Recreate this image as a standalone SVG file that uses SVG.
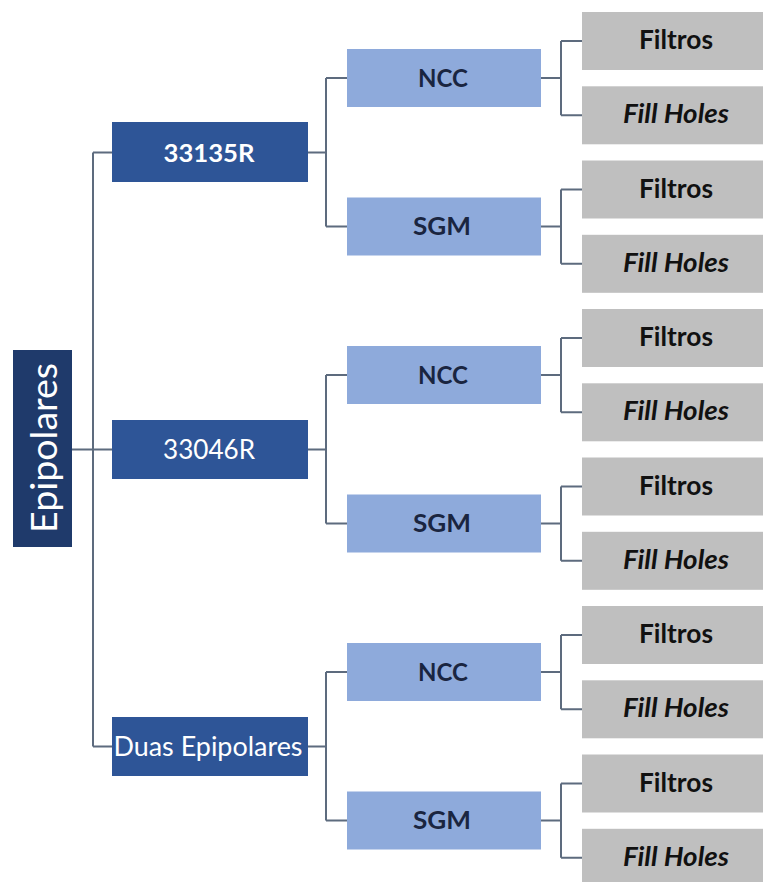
<svg xmlns="http://www.w3.org/2000/svg" width="763" height="882" viewBox="0 0 763 882">
<style>
.root{fill:#1f3a6b}
.l1{fill:#2e5597}
.l2{fill:#8eaadb}
.leaf{fill:#bfbfbf}
text{font-family:Lato,"Liberation Sans",sans-serif;text-anchor:middle;dominant-baseline:central}
.t0{fill:#fff;font-size:36px}
.t1{fill:#fff;font-size:26px}
.t1b{fill:#fff;font-size:25px;font-weight:bold}
.t2{fill:#1a2540;font-size:24px;font-weight:bold}
.t3{fill:#111;font-size:26px;font-weight:bold}
.t3i{fill:#111;font-size:26px;font-weight:bold;font-style:italic}
.c{fill:none;stroke:#5d6b7e;stroke-width:2}
</style>
<rect width="763" height="882" fill="#fff"/>
<g id="connectors" class="c">
<path d="M72 449.5H93M93 152.4V746.4M93 152.4H112M93 449.4H112M93 746.4H112"/>
<path d="M308 152.4H326M326 78.1V226.6M326 78.1H347M326 226.6H347"/>
<path d="M308 449.4H326M326 375.1V523.6M326 375.1H347M326 523.6H347"/>
<path d="M308 746.4H326M326 672.1V820.6M326 672.1H347M326 820.6H347"/>
<path d="M541 78.1H561M561 41V115.3M561 41H582M561 115.3H582"/>
<path d="M541 226.6H561M561 189.5V263.8M561 189.5H582M561 263.8H582"/>
<path d="M541 375.1H561M561 338V412.3M561 338H582M561 412.3H582"/>
<path d="M541 523.6H561M561 486.5V560.8M561 486.5H582M561 560.8H582"/>
<path d="M541 672.1H561M561 635V709.3M561 635H582M561 709.3H582"/>
<path d="M541 820.6H561M561 783.5V857.8M561 783.5H582M561 857.8H582"/>
</g>
<g id="epipolares"><rect class="root" x="13" y="350" width="59" height="197"/><text class="t0" transform="translate(43 448) rotate(-90)" textLength="170" lengthAdjust="spacingAndGlyphs">Epipolares</text></g>
<g id="n33135R"><rect class="l1" x="112" y="122" width="196" height="60"/><text class="t1b" x="209" y="152.4" textLength="91" lengthAdjust="spacingAndGlyphs">33135R</text></g>
<g id="n33046R"><rect class="l1" x="112" y="420" width="196" height="59"/><text class="t1" x="209" y="449.4" textLength="92" lengthAdjust="spacingAndGlyphs">33046R</text></g>
<g id="duas"><rect class="l1" x="112" y="717" width="196" height="59"/><text class="t1" x="208" y="746.4" textLength="189" lengthAdjust="spacingAndGlyphs">Duas Epipolares</text></g>
<g id="ncc1"><rect class="l2" x="347" y="49" width="194" height="58"/><text class="t2" x="443" y="77">NCC</text></g>
<g id="sgm1"><rect class="l2" x="347" y="197.5" width="194" height="58"/><text class="t2" x="442" y="225.5" textLength="58" lengthAdjust="spacingAndGlyphs">SGM</text></g>
<g id="ncc2"><rect class="l2" x="347" y="346" width="194" height="58"/><text class="t2" x="443" y="374">NCC</text></g>
<g id="sgm2"><rect class="l2" x="347" y="494.5" width="194" height="58"/><text class="t2" x="442" y="522.5" textLength="58" lengthAdjust="spacingAndGlyphs">SGM</text></g>
<g id="ncc3"><rect class="l2" x="347" y="643" width="194" height="58"/><text class="t2" x="443" y="671">NCC</text></g>
<g id="sgm3"><rect class="l2" x="347" y="791.5" width="194" height="58"/><text class="t2" x="442" y="819.5" textLength="58" lengthAdjust="spacingAndGlyphs">SGM</text></g>
<g id="f1"><rect class="leaf" x="582" y="12" width="181" height="58"/><text class="t3" x="676" y="39" textLength="74" lengthAdjust="spacingAndGlyphs">Filtros</text></g>
<g id="h1"><rect class="leaf" x="582" y="86.3" width="181" height="58"/><text class="t3i" x="676" y="113" textLength="106" lengthAdjust="spacingAndGlyphs">Fill Holes</text></g>
<g id="f2"><rect class="leaf" x="582" y="160.5" width="181" height="58"/><text class="t3" x="676" y="187.5" textLength="74" lengthAdjust="spacingAndGlyphs">Filtros</text></g>
<g id="h2"><rect class="leaf" x="582" y="234.8" width="181" height="58"/><text class="t3i" x="676" y="261.5" textLength="106" lengthAdjust="spacingAndGlyphs">Fill Holes</text></g>
<g id="f3"><rect class="leaf" x="582" y="309" width="181" height="58"/><text class="t3" x="676" y="336" textLength="74" lengthAdjust="spacingAndGlyphs">Filtros</text></g>
<g id="h3"><rect class="leaf" x="582" y="383.3" width="181" height="58"/><text class="t3i" x="676" y="410" textLength="106" lengthAdjust="spacingAndGlyphs">Fill Holes</text></g>
<g id="f4"><rect class="leaf" x="582" y="457.5" width="181" height="58"/><text class="t3" x="676" y="484.5" textLength="74" lengthAdjust="spacingAndGlyphs">Filtros</text></g>
<g id="h4"><rect class="leaf" x="582" y="531.8" width="181" height="58"/><text class="t3i" x="676" y="558.5" textLength="106" lengthAdjust="spacingAndGlyphs">Fill Holes</text></g>
<g id="f5"><rect class="leaf" x="582" y="606" width="181" height="58"/><text class="t3" x="676" y="633" textLength="74" lengthAdjust="spacingAndGlyphs">Filtros</text></g>
<g id="h5"><rect class="leaf" x="582" y="680.3" width="181" height="58"/><text class="t3i" x="676" y="707" textLength="106" lengthAdjust="spacingAndGlyphs">Fill Holes</text></g>
<g id="f6"><rect class="leaf" x="582" y="754.5" width="181" height="58"/><text class="t3" x="676" y="781.5" textLength="74" lengthAdjust="spacingAndGlyphs">Filtros</text></g>
<g id="h6"><rect class="leaf" x="582" y="828.8" width="181" height="58"/><text class="t3i" x="676" y="855.5" textLength="106" lengthAdjust="spacingAndGlyphs">Fill Holes</text></g>
</svg>
